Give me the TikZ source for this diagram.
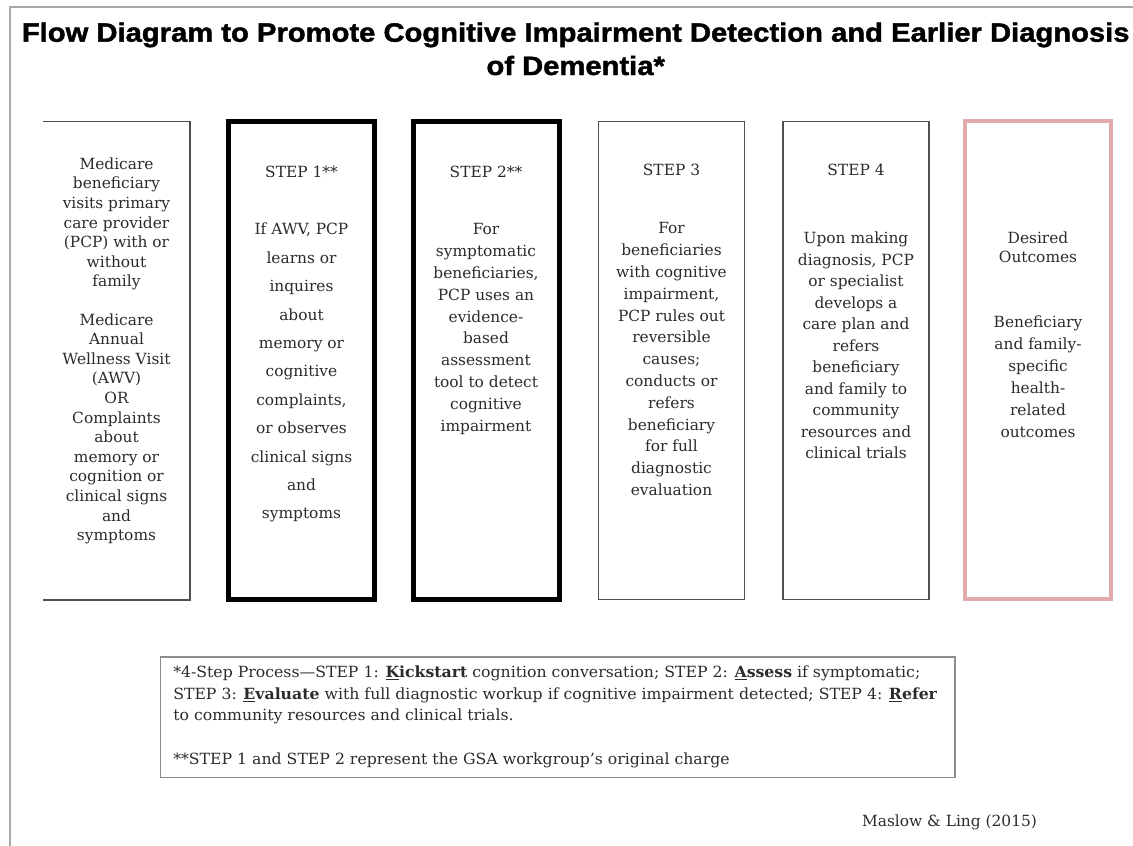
\documentclass[tikz,border=0pt]{standalone}
\usepackage{fontspec}
\setmainfont{DejaVu Serif}
\newfontfamily\titlefont[FakeStretch=1.10, FakeBold=1.6]{Liberation Sans}
\newfontfamily\notefont[FakeStretch=1.02]{DejaVu Serif}
\newcommand{\kw}[2]{\textbf{\underline{#1}#2}}

\definecolor{ink}{HTML}{2B2B2B}
\definecolor{edgegray}{HTML}{505050}
\definecolor{framegray}{HTML}{A8A8A8}
\definecolor{pinkline}{HTML}{E2AAAB}
\definecolor{notegray}{HTML}{8C8C8C}

\tikzset{
  column/.style={rectangle, minimum width=109.5pt, minimum height=358.5pt, inner sep=0pt},
  thinbox/.style={column, draw=edgegray, line width=1.1pt},
  thickbox/.style={column, draw=black, line width=3.75pt},
  goalbox/.style={column, draw=pinkline, line width=3pt},
  boxtext/.style={text=ink, align=center, inner sep=0pt, font=\fontsize{11.55pt}{#1}\selectfont},
  header/.style={text=ink, inner sep=0pt, font=\fontsize{11.55pt}{14pt}\selectfont},
  titleline/.style={anchor=base, inner sep=0pt, text=black, font=\titlefont\bfseries\fontsize{19.9pt}{24pt}\selectfont},
  frameline/.style={draw=framegray, line width=1.1pt},
}

\begin{document}
\begin{tikzpicture}[x=0.75pt, y=-0.75pt]
  \useasboundingbox (0,0) rectangle (1133,846);

  % page frame
  \draw[frameline] (10,846) -- (10,7) -- (1133,7);

  % title
  \node[titleline] (title1) at (575.7,41.7) {Flow Diagram to Promote Cognitive Impairment Detection and Earlier Diagnosis};
  \node[titleline] (title2) at (575.7,75) {of Dementia*};

  % columns
  \node[column] (b0) at (116.5,360.5) {};
  \draw[edgegray, line width=1.1pt] (b0.north west) -- (b0.north east) -- (b0.south east) -- (b0.south west);
  \node[thickbox] (b1) at (301.5,360.5) {};
  \node[thickbox] (b2) at (486,360.5) {};
  \node[thinbox]  (b3) at (671.5,360.5) {};
  \node[thinbox]  (b4) at (856,360.5) {};
  \node[goalbox]  (b5) at (1038,360) {};

  % column texts
  \node[boxtext=14.7pt] (t0) at (116.5,350.9) {Medicare\\beneficiary\\visits primary\\care provider\\(PCP) with or\\without\\family\\[14pt]Medicare\\Annual\\Wellness Visit\\(AWV)\\OR\\Complaints\\about\\memory or\\cognition or\\clinical signs\\and\\symptoms};

  \node[header] (h1) at (301.5,171.7) {STEP 1**};
  \node[boxtext=21.3pt] (t1) at (301.5,372.8) {If AWV, PCP\\learns or\\inquires\\about\\memory or\\cognitive\\complaints,\\or observes\\clinical signs\\and\\symptoms};

  \node[header] (h2) at (486,171.7) {STEP 2**};
  \node[boxtext=16.35pt] (t2) at (486,329) {For\\symptomatic\\beneficiaries,\\PCP uses an\\evidence-\\based\\assessment\\tool to detect\\cognitive\\impairment};

  \node[header] (h3) at (671.5,170) {STEP 3};
  \node[boxtext=16.35pt] (t3) at (671.5,359.2) {For\\beneficiaries\\with cognitive\\impairment,\\PCP rules out\\reversible\\causes;\\conducts or\\refers\\beneficiary\\for full\\diagnostic\\evaluation};

  \node[header] (h4) at (856,170) {STEP 4};
  \node[boxtext=16.1pt] (t4) at (856,345.5) {Upon making\\diagnosis, PCP\\or specialist\\develops a\\care plan and\\refers\\beneficiary\\and family to\\community\\resources and\\clinical trials};

  \node[boxtext=14.25pt] (h5) at (1038,247.2) {Desired\\Outcomes};
  \node[boxtext=16.5pt] (t5) at (1038,376.7) {Beneficiary\\and family-\\specific\\health-\\related\\outcomes};

  % footnote
  \node[draw=notegray, line width=0.9pt, minimum width=595.9pt, minimum height=90.4pt, inner sep=0pt] (note) at (557.75,717.25) {};
  \node[anchor=west, align=left, inner sep=0pt, text=ink, font=\notefont\fontsize{11.55pt}{16.3pt}\selectfont] (notetext) at (173,716.7)
    {*4-Step Process—STEP 1: \kw{K}{ickstart} cognition conversation; STEP 2: \kw{A}{ssess} if symptomatic;\\
     STEP 3: \kw{E}{valuate} with full diagnostic workup if cognitive impairment detected; STEP 4: \kw{R}{efer}\\
     to community resources and clinical trials.\\[16.3pt]
     **STEP 1 and STEP 2 represent the GSA workgroup’s original charge};

  % citation
  \node[inner sep=0pt, text=ink, font=\fontsize{11.55pt}{14pt}\selectfont] (cite) at (949.5,822) {Maslow \& Ling (2015)};
\end{tikzpicture}
\end{document}
